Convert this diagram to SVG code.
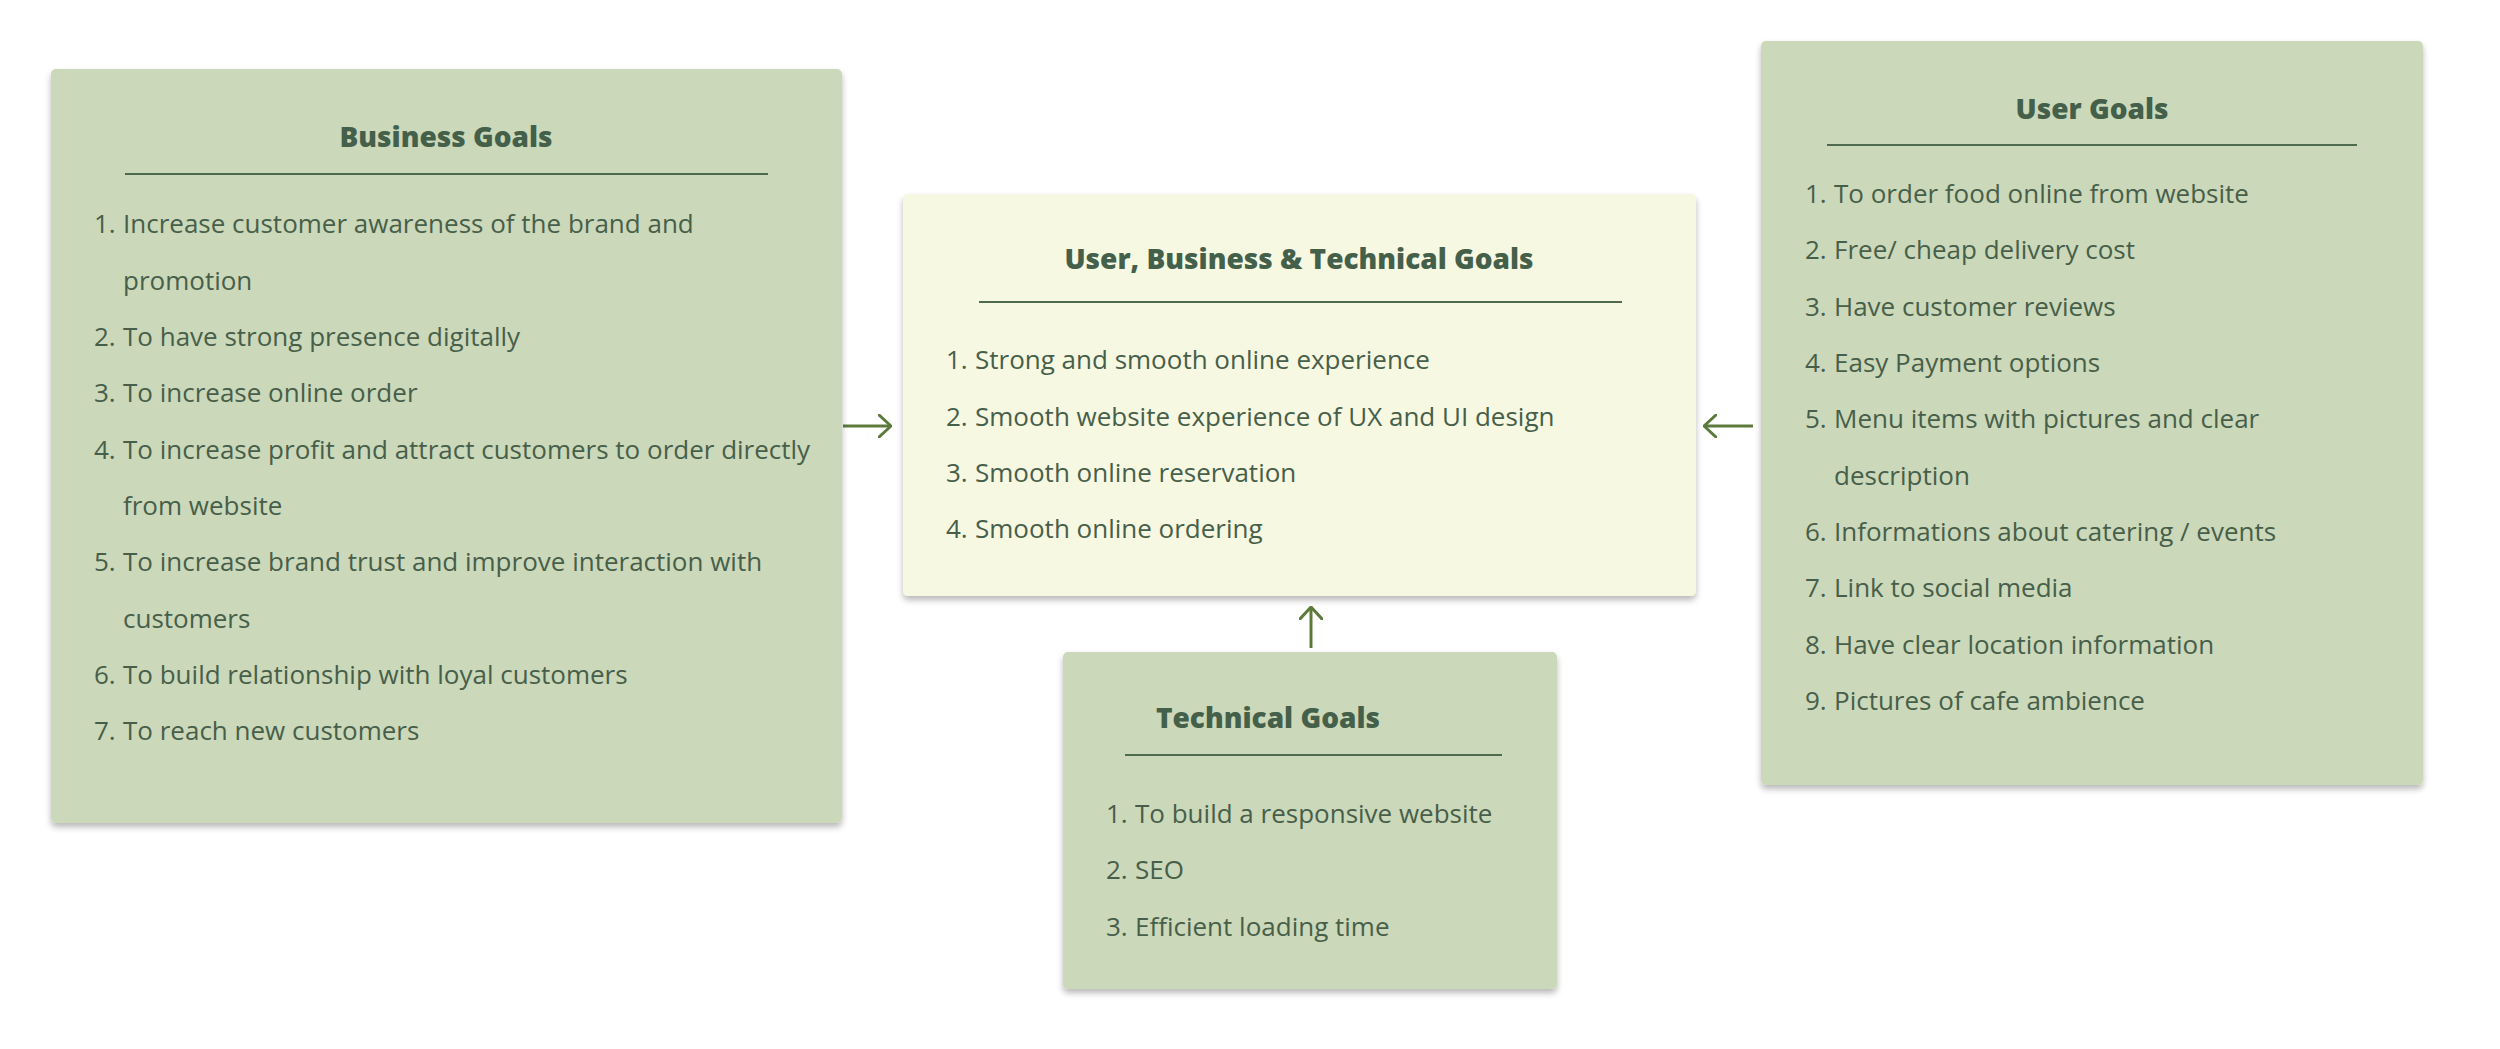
<svg xmlns="http://www.w3.org/2000/svg" width="2500" height="1049" viewBox="0 0 2500 1049">
<defs>
<filter id="sh" x="-5%" y="-5%" width="110%" height="115%">
<feDropShadow dx="0" dy="4" stdDeviation="3" flood-color="#000" flood-opacity="0.28"/>
</filter>
<marker id="ah" viewBox="0 0 14 24" refX="13" refY="12" markerWidth="14" markerHeight="24" markerUnits="userSpaceOnUse" orient="auto">
<path d="M1 1 L13 12 L1 23" fill="none" stroke="#5b7a3c" stroke-width="3" stroke-linecap="round" stroke-linejoin="round"/>
</marker>
<style>
.box{fill:#cbd8b9;filter:url(#sh)}
.cbox{fill:#f6f8e1;filter:url(#sh)}
.t{font-family:"Open Sans",sans-serif;font-weight:800;font-size:28px;fill:#45604a}
.i{font-family:"Open Sans",sans-serif;font-weight:400;font-size:26px;fill:#475f4a}
.u{stroke:#4f6b4f;stroke-width:2}
.c{stroke:#5b7a3c;stroke-width:3;fill:none}
</style>
</defs>
<rect width="2500" height="1049" fill="#fff"/>
<g id="connectors">
<line class="c" x1="843" y1="426" x2="891" y2="426" marker-end="url(#ah)"/>
<line class="c" x1="1753" y1="426" x2="1704" y2="426" marker-end="url(#ah)"/>
<line class="c" x1="1311" y1="648" x2="1311" y2="607" marker-end="url(#ah)"/>
</g>
<g id="business-goals">
<rect class="box" x="51" y="69" width="791" height="754" rx="5"/>
<text class="t" x="446" y="147" text-anchor="middle">Business Goals</text>
<line class="u" x1="125" y1="174" x2="768" y2="174"/>
<text class="i"><tspan x="94" y="233">1.</tspan><tspan x="123" y="233">Increase customer awareness of the brand and</tspan></text>
<text class="i" x="123" y="289.5">promotion</text>
<text class="i"><tspan x="94" y="346">2.</tspan><tspan x="123" y="346">To have strong presence digitally</tspan></text>
<text class="i"><tspan x="94" y="402">3.</tspan><tspan x="123" y="402">To increase online order</tspan></text>
<text class="i"><tspan x="94" y="458.5">4.</tspan><tspan x="123" y="458.5">To increase profit and attract customers to order directly</tspan></text>
<text class="i" x="123" y="515">from website</text>
<text class="i"><tspan x="94" y="571">5.</tspan><tspan x="123" y="571">To increase brand trust and improve interaction with</tspan></text>
<text class="i" x="123" y="627.5">customers</text>
<text class="i"><tspan x="94" y="684">6.</tspan><tspan x="123" y="684">To build relationship with loyal customers</tspan></text>
<text class="i"><tspan x="94" y="740">7.</tspan><tspan x="123" y="740">To reach new customers</tspan></text>
</g>
<g id="combined-goals">
<rect class="cbox" x="903" y="194" width="793" height="402" rx="5"/>
<text class="t" x="1299" y="269" text-anchor="middle">User, Business &amp; Technical Goals</text>
<line class="u" x1="979" y1="302" x2="1622" y2="302"/>
<text class="i"><tspan x="946" y="369">1.</tspan><tspan x="975" y="369">Strong and smooth online experience</tspan></text>
<text class="i"><tspan x="946" y="426">2.</tspan><tspan x="975" y="426">Smooth website experience of UX and UI design</tspan></text>
<text class="i"><tspan x="946" y="482">3.</tspan><tspan x="975" y="482">Smooth online reservation</tspan></text>
<text class="i"><tspan x="946" y="538">4.</tspan><tspan x="975" y="538">Smooth online ordering</tspan></text>
</g>
<g id="user-goals">
<rect class="box" x="1761" y="41" width="662" height="744" rx="5"/>
<text class="t" x="2092" y="119" text-anchor="middle">User Goals</text>
<line class="u" x1="1827" y1="145" x2="2357" y2="145"/>
<text class="i"><tspan x="1805" y="203">1.</tspan><tspan x="1834" y="203">To order food online from website</tspan></text>
<text class="i"><tspan x="1805" y="259">2.</tspan><tspan x="1834" y="259">Free/ cheap delivery cost</tspan></text>
<text class="i"><tspan x="1805" y="316">3.</tspan><tspan x="1834" y="316">Have customer reviews</tspan></text>
<text class="i"><tspan x="1805" y="372">4.</tspan><tspan x="1834" y="372">Easy Payment options</tspan></text>
<text class="i"><tspan x="1805" y="428">5.</tspan><tspan x="1834" y="428">Menu items with pictures and clear</tspan></text>
<text class="i" x="1834" y="485">description</text>
<text class="i"><tspan x="1805" y="541">6.</tspan><tspan x="1834" y="541">Informations about catering / events</tspan></text>
<text class="i"><tspan x="1805" y="597">7.</tspan><tspan x="1834" y="597">Link to social media</tspan></text>
<text class="i"><tspan x="1805" y="654">8.</tspan><tspan x="1834" y="654">Have clear location information</tspan></text>
<text class="i"><tspan x="1805" y="710">9.</tspan><tspan x="1834" y="710">Pictures of cafe ambience</tspan></text>
</g>
<g id="technical-goals">
<rect class="box" x="1063" y="652" width="494" height="337" rx="5"/>
<text class="t" x="1156" y="728">Technical Goals</text>
<line class="u" x1="1125" y1="755" x2="1502" y2="755"/>
<text class="i"><tspan x="1106" y="823">1.</tspan><tspan x="1135" y="823">To build a responsive website</tspan></text>
<text class="i"><tspan x="1106" y="879">2.</tspan><tspan x="1135" y="879">SEO</tspan></text>
<text class="i"><tspan x="1106" y="936">3.</tspan><tspan x="1135" y="936">Efficient loading time</tspan></text>
</g>
</svg>
